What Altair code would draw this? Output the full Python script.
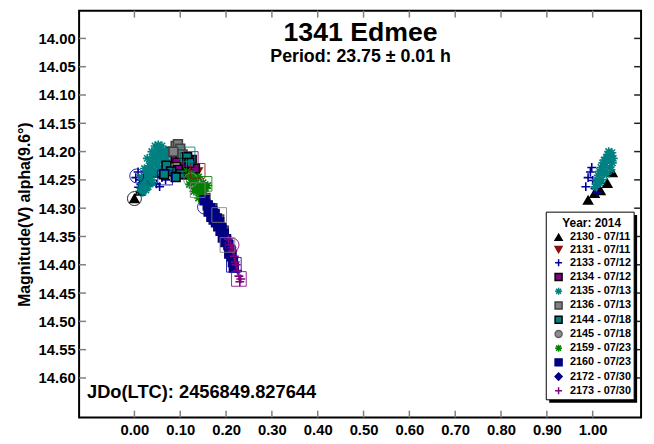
import altair as alt
import pandas as pd

# ---------------- data ----------------
SESSIONS = ["2130 - 07/11", "2131 - 07/11", "2133 - 07/12", "2134 - 07/12",
            "2135 - 07/13", "2136 - 07/13", "2144 - 07/18", "2145 - 07/18",
            "2159 - 07/23", "2160 - 07/23", "2172 - 07/30", "2173 - 07/30"]

S2130 = [(0.000, 14.283), (0.012, 14.270), (0.022, 14.262), (0.032, 14.252), (0.043, 14.238),
         (0.990, 14.286), (1.004, 14.274), (1.017, 14.269), (1.032, 14.256), (1.043, 14.237)]
S2131 = [(0.085, 14.212), (0.095, 14.205), (0.104, 14.214), (0.118, 14.222), (0.130, 14.230),
         (0.138, 14.236)]
S2133 = [(0.003, 14.246), (0.008, 14.236), (0.011, 14.250), (0.014, 14.258), (0.009, 14.263),
         (0.017, 14.266), (0.048, 14.257), (0.055, 14.262), (0.068, 14.250), (0.060, 14.246),
         (0.985, 14.262), (0.990, 14.246), (0.995, 14.236), (1.000, 14.251), (1.005, 14.265),
         (1.010, 14.273), (1.015, 14.256), (0.998, 14.228)]
S2134 = [(0.080, 14.200), (0.090, 14.212), (0.100, 14.202), (0.110, 14.222), (0.125, 14.215),
         (0.132, 14.230), (0.095, 14.232), (0.115, 14.240)]
S2135 = [(0.012, 14.270), (0.015, 14.262), (0.018, 14.255), (0.020, 14.248), (0.022, 14.260),
         (0.025, 14.240), (0.028, 14.232), (0.030, 14.245), (0.032, 14.225), (0.035, 14.218),
         (0.037, 14.230), (0.040, 14.210), (0.042, 14.222), (0.045, 14.205), (0.048, 14.215),
         (0.050, 14.198), (0.053, 14.208), (0.055, 14.195), (0.058, 14.200), (0.060, 14.190),
         (0.063, 14.198), (0.066, 14.205), (0.070, 14.210), (0.035, 14.250), (0.043, 14.240),
         (0.025, 14.268), (0.050, 14.225), (0.058, 14.215), (0.018, 14.272), (0.030, 14.262),
         (0.040, 14.255), (0.047, 14.235), (0.055, 14.228), (0.062, 14.215), (0.068, 14.198),
         (0.045, 14.190), (0.052, 14.188), (0.038, 14.200), (0.028, 14.212), (0.022, 14.230),
         (0.015, 14.245), (0.033, 14.238), (0.065, 14.225), (0.072, 14.218),
         (1.005, 14.262), (1.008, 14.250), (1.012, 14.242), (1.015, 14.235), (1.018, 14.228),
         (1.020, 14.240), (1.022, 14.220), (1.025, 14.215), (1.028, 14.225), (1.030, 14.210),
         (1.033, 14.205), (1.036, 14.215), (1.040, 14.208), (1.043, 14.220), (1.045, 14.212),
         (1.010, 14.258), (1.025, 14.235), (1.038, 14.228), (1.030, 14.240), (1.035, 14.200),
         (1.042, 14.202), (1.020, 14.250), (1.015, 14.255), (1.040, 14.232)]
S2136 = [(0.090, 14.190), (0.095, 14.187), (0.100, 14.195), (0.085, 14.200), (0.105, 14.205),
         (0.110, 14.210), (0.155, 14.282), (0.170, 14.300), (0.185, 14.320), (0.195, 14.340)]
S2144 = [(0.070, 14.225), (0.080, 14.235), (0.065, 14.240), (0.100, 14.240), (0.115, 14.210),
         (0.120, 14.220), (0.090, 14.245)]
S2145 = [(0.130, 14.250), (0.140, 14.262), (0.148, 14.275), (0.155, 14.285)]
S2159 = [(0.115, 14.235), (0.120, 14.245), (0.125, 14.240), (0.130, 14.250), (0.135, 14.255),
         (0.140, 14.245), (0.145, 14.260), (0.150, 14.255), (0.155, 14.265), (0.140, 14.270),
         (0.145, 14.275), (0.150, 14.270), (0.135, 14.265), (0.160, 14.260), (0.125, 14.255),
         (0.130, 14.270), (0.140, 14.282), (0.148, 14.282), (0.120, 14.258)]
S2160 = [(0.153, 14.286), (0.160, 14.295), (0.165, 14.300), (0.170, 14.305), (0.175, 14.310),
         (0.180, 14.318), (0.185, 14.325), (0.190, 14.335), (0.195, 14.345), (0.200, 14.355),
         (0.205, 14.365), (0.210, 14.375), (0.212, 14.385), (0.215, 14.395), (0.217, 14.405),
         (0.168, 14.315), (0.178, 14.325), (0.188, 14.340), (0.198, 14.360), (0.207, 14.380),
         (0.162, 14.306), (0.173, 14.320), (0.183, 14.332), (0.193, 14.352)]
S2172 = [(0.160, 14.290), (0.175, 14.305), (0.190, 14.330), (0.200, 14.350), (0.210, 14.370)]
S2173 = [(0.205, 14.355), (0.210, 14.365), (0.213, 14.370), (0.218, 14.385), (0.220, 14.395),
         (0.222, 14.400), (0.225, 14.410), (0.228, 14.420), (0.230, 14.430), (0.232, 14.425),
         (0.215, 14.375)]
SERIES = [S2130, S2131, S2133, S2134, S2135, S2136, S2144, S2145, S2159, S2160, S2172, S2173]

# large hollow markers: (session index, phase, magnitude)
OPEN_CIRCLES = [(0, 0.000, 14.283), (2, 0.005, 14.243), (7, 0.123, 14.250), (2, 0.153, 14.298),
                (11, 0.213, 14.365)]
OPEN_SQUARES = [(2, 0.067, 14.246), (3, 0.123, 14.213), (1, 0.138, 14.234), (8, 0.153, 14.257),
                (5, 0.138, 14.268), (5, 0.185, 14.312), (5, 0.203, 14.365), (2, 0.217, 14.400),
                (11, 0.228, 14.425), (0, 0.100, 14.225), (4, 0.116, 14.205)]

XTICKS = [0.0, 0.1, 0.2, 0.3, 0.4, 0.5, 0.6, 0.7, 0.8, 0.9, 1.0]
YTICKS = [14.00, 14.05, 14.10, 14.15, 14.20, 14.25, 14.30, 14.35, 14.40, 14.45, 14.50, 14.55, 14.60]

TITLE = "1341 Edmee"
SUBTITLE = "Period: 23.75 ± 0.01 h"
JDO = "JDo(LTC): 2456849.827644"
LEGEND_TITLE = "Year: 2014"
Y_TITLE = "Magnitude(V) alpha(9.6°)"

# ---------------- styles ----------------
PLUS = "M-1,0L1,0M0,-1L0,1"
STAR = "M-1,0L1,0M0,-1L0,1M-0.72,-0.72L0.72,0.72M-0.72,0.72L0.72,-0.72"
FILLS = ["#000000", "#8b1010", "#000099", "#800080", "#008080", "#808080",
         "#008080", "#8c8c8c", "#008000", "#000080", "#000080", "#800080"]
STROKES = ["#000000", "#8b1010", "#000099", "#000000", "#008080", "#404040",
           "#000000", "#606060", "#008000", "#000080", "#000080", "#800080"]
SHAPES = ["triangle-up", "triangle-down", PLUS, "square", STAR, "square",
          "square", "circle", STAR, "square", "diamond", PLUS]
FONT = "Liberation Sans"

rows = []
for s, pts in zip(SESSIONS, SERIES):
    for ph, m in pts:
        rows.append({"session": s, "phase": ph, "mag": m, "idx": len(rows)})
df = pd.DataFrame(rows)

oc = pd.DataFrame([{"phase": p, "mag": m, "col": FILLS[i]} for i, p, m in OPEN_CIRCLES])
osq = pd.DataFrame([{"phase": p, "mag": m, "col": FILLS[i]} for i, p, m in OPEN_SQUARES])

W, H = 569, 412
xs = alt.Scale(domain=[-0.1207, 1.1056], nice=False, zero=False)
ys = alt.Scale(domain=[13.951, 14.670], reverse=True, nice=False, zero=False)

xaxis = alt.Axis(values=XTICKS, format=".2f", title=None, ticks=False, domain=False, grid=False,
                 labelFont=FONT, labelFontSize=15, labelFontWeight="bold", labelColor="black",
                 labelPadding=5, labelFlush=False)
yaxis = alt.Axis(values=YTICKS, format=".2f", title=Y_TITLE, ticks=False, domain=False, grid=False,
                 labelFont=FONT, labelFontSize=15, labelFontWeight="bold", labelColor="black",
                 labelPadding=4, titleFont=FONT, titleFontSize=16, titleFontWeight="bold",
                 titleColor="black", titlePadding=6, labelFlush=False)

X = lambda f: alt.X(f, scale=xs, axis=xaxis)
Y = lambda f: alt.Y(f, scale=ys, axis=yaxis)

points = alt.Chart(df).mark_point(filled=True, size=80, strokeWidth=1.6, opacity=1).encode(
    x=X("phase:Q"),
    y=Y("mag:Q"),
    fill=alt.Fill("session:N", scale=alt.Scale(domain=SESSIONS, range=FILLS), title=LEGEND_TITLE),
    stroke=alt.Stroke("session:N", scale=alt.Scale(domain=SESSIONS, range=STROKES), title=LEGEND_TITLE),
    shape=alt.Shape("session:N", scale=alt.Scale(domain=SESSIONS, range=SHAPES), title=LEGEND_TITLE),
    order=alt.Order("idx:Q"),
)

open_c = alt.Chart(oc).mark_point(shape="circle", filled=False, size=200, strokeWidth=1, opacity=0.85).encode(
    x=X("phase:Q"), y=Y("mag:Q"), color=alt.Color("col:N", scale=None),
)
open_s = alt.Chart(osq).mark_point(shape="square", filled=False, size=220, strokeWidth=1, opacity=0.85).encode(
    x=X("phase:Q"), y=Y("mag:Q"), color=alt.Color("col:N", scale=None),
)

xt = pd.DataFrame({"phase": XTICKS})
yt = pd.DataFrame({"mag": YTICKS})
TICK = 7
tick_b = alt.Chart(xt).mark_rule(color="#808080", strokeWidth=1.5).encode(
    x=X("phase:Q"), y=alt.value(H), y2=alt.value(H - TICK))
tick_t = alt.Chart(xt).mark_rule(color="#808080", strokeWidth=1.5).encode(
    x=X("phase:Q"), y=alt.value(0), y2=alt.value(TICK))
tick_l = alt.Chart(yt).mark_rule(color="#808080", strokeWidth=1.5).encode(
    y=Y("mag:Q"), x=alt.value(0), x2=alt.value(TICK))
tick_r = alt.Chart(yt).mark_rule(color="#202020", strokeWidth=1.5).encode(
    y=Y("mag:Q"), x=alt.value(W), x2=alt.value(W - TICK))

t1 = alt.Chart(pd.DataFrame({"t": [TITLE]})).mark_text(
    font=FONT, fontSize=27, fontWeight="bold", color="black", align="center", baseline="middle"
).encode(x=alt.value(285), y=alt.value(23), text="t:N")
t2 = alt.Chart(pd.DataFrame({"t": [SUBTITLE]})).mark_text(
    font=FONT, fontSize=18, fontWeight="bold", color="black", align="center", baseline="middle"
).encode(x=alt.value(285), y=alt.value(47), text="t:N")
t3 = alt.Chart(pd.DataFrame({"t": [JDO]})).mark_text(
    font=FONT, fontSize=18.5, fontWeight="bold", color="black", align="left", baseline="middle"
).encode(x=alt.value(8), y=alt.value(386), text="t:N")

# legend frame (box + drop shadow) drawn as marks; legend content placed inside
LX, LY = 476, 206
BX0, BX1, BY0, BY1 = 473, 562, 204, 394
one = pd.DataFrame({"a": [0]})
shadow = alt.Chart(one).mark_rect(color="black").encode(
    x=alt.value(BX0 + 3), x2=alt.value(BX1 + 3), y=alt.value(BY0 + 3), y2=alt.value(BY1 + 3))
box = alt.Chart(one).mark_rect(fill="white", stroke="black", strokeWidth=1).encode(
    x=alt.value(BX0), x2=alt.value(BX1), y=alt.value(BY0), y2=alt.value(BY1))

chart = alt.layer(tick_b, tick_t, tick_l, tick_r, points, open_c, open_s, shadow, box,
                  t1, t2, t3).properties(
    width=W, height=H,
    autosize=alt.AutoSizeParams(type="none"),
    padding={"left": 72, "top": 0, "right": 5, "bottom": 20},
    background="white",
).configure_view(
    stroke="black", strokeWidth=2
).configure_legend(
    orient="none", legendX=LX, legendY=LY, padding=4,
    titleFont=FONT, titleFontSize=12, titleFontWeight="bold", titleColor="black",
    titleAnchor="middle", titlePadding=2,
    labelFont=FONT, labelFontSize=11, labelFontWeight="bold", labelColor="black",
    labelOffset=6, rowPadding=-0.6, symbolSize=50, symbolStrokeWidth=1.5, offset=0,
)

chart.save("out.html", embed_options={"renderer": "svg", "actions": False})
